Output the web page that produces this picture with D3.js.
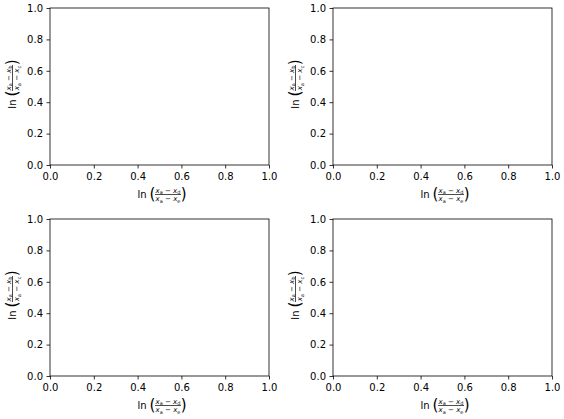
<!DOCTYPE html>
<html>
<head>
<meta charset="utf-8">
<script src="https://cdn.jsdelivr.net/npm/d3@7"></script>
<style>
  body { margin: 0; background: #fff; }
  svg { font-family: "DejaVu Sans", sans-serif; }
</style>
</head>
<body>
<div id="chart"></div>
<script>
// panel boxes (left, top) in pixels, all same size
const panels = [
  { left: 50, top: 8 },
  { left: 333, top: 8 },
  { left: 50, top: 219 },
  { left: 333, top: 219 }
]
const xTicks = [0.0, 0.2, 0.4, 0.6, 0.8, 1.0]
const yTicks = [0.0, 0.2, 0.4, 0.6, 0.8, 1.0]
const xSubs = ['a', 'd', 'a', 'e']
const ySubs = ['a', 'b', 'a', 'c']

const pw = 219, ph = 157

const svg = d3.select('#chart').append('svg')
  .attr('width', 564)
  .attr('height', 419)

// draws ln( (x_p - x_q) / (x_r - x_s) ) centred at 0,0 inside g
function mathLabel(g, subs) {
  g.append('text').attr('x', -21).attr('y', 4)
    .attr('font-size', 10).attr('text-anchor', 'end').text('ln')
  g.append('text').attr('x', -18).attr('y', 4.5)
    .attr('font-size', 15).text('(')
  g.append('text').attr('x', 19).attr('y', 4.5)
    .attr('font-size', 15).attr('text-anchor', 'end').text(')')
  const part = (y, a, b) => {
    const t = g.append('text').attr('x', 0.5).attr('y', y)
      .attr('font-size', 7).attr('text-anchor', 'middle')
    t.append('tspan').attr('font-style', 'italic').text('x')
    t.append('tspan').attr('font-size', 5).attr('dy', 1.5).text(a)
    t.append('tspan').attr('dy', -1.5).text(' \u2212 ')
    t.append('tspan').attr('font-style', 'italic').text('x')
    t.append('tspan').attr('font-size', 5).attr('dy', 1.5).text(b)
  }
  part(-1.5, subs[0], subs[1])
  g.append('line').attr('x1', -12.5).attr('x2', 13.5)
    .attr('y1', 0.5).attr('y2', 0.5)
    .attr('stroke', '#000').attr('stroke-width', 0.7)
  part(7, subs[2], subs[3])
}

panels.forEach(p => {
  const x = d3.scaleLinear().domain([0, 1]).range([0, pw])
  const y = d3.scaleLinear().domain([0, 1]).range([ph, 0])
  const g = svg.append('g').attr('transform', `translate(${p.left},${p.top})`)

  const xAxis = g.append('g').attr('transform', `translate(0,${ph})`)
    .call(d3.axisBottom(x).tickValues(xTicks).tickFormat(d3.format('.1f'))
      .tickSizeOuter(0).tickSizeInner(3.5).tickPadding(4.5))
  const yAxis = g.append('g')
    .call(d3.axisLeft(y).tickValues(yTicks).tickFormat(d3.format('.1f'))
      .tickSizeOuter(0).tickSizeInner(3.5).tickPadding(3.5))
  ;[xAxis, yAxis].forEach(a => {
    a.select('.domain').remove()
    a.selectAll('text').attr('font-size', 10)
      .attr('font-family', '"DejaVu Sans", sans-serif').attr('fill', '#000')
    a.selectAll('line').attr('stroke', '#000').attr('stroke-width', 0.8)
  })

  g.append('rect').attr('width', pw).attr('height', ph)
    .attr('fill', 'none').attr('stroke', '#000').attr('stroke-width', 0.8)

  mathLabel(g.append('g').attr('transform', `translate(${pw / 2 + 8},${ph + 29})`), xSubs)
  mathLabel(g.append('g').attr('transform', `translate(-38,${ph / 2 - 8}) rotate(-90)`), ySubs)
})
</script>
</body>
</html>
